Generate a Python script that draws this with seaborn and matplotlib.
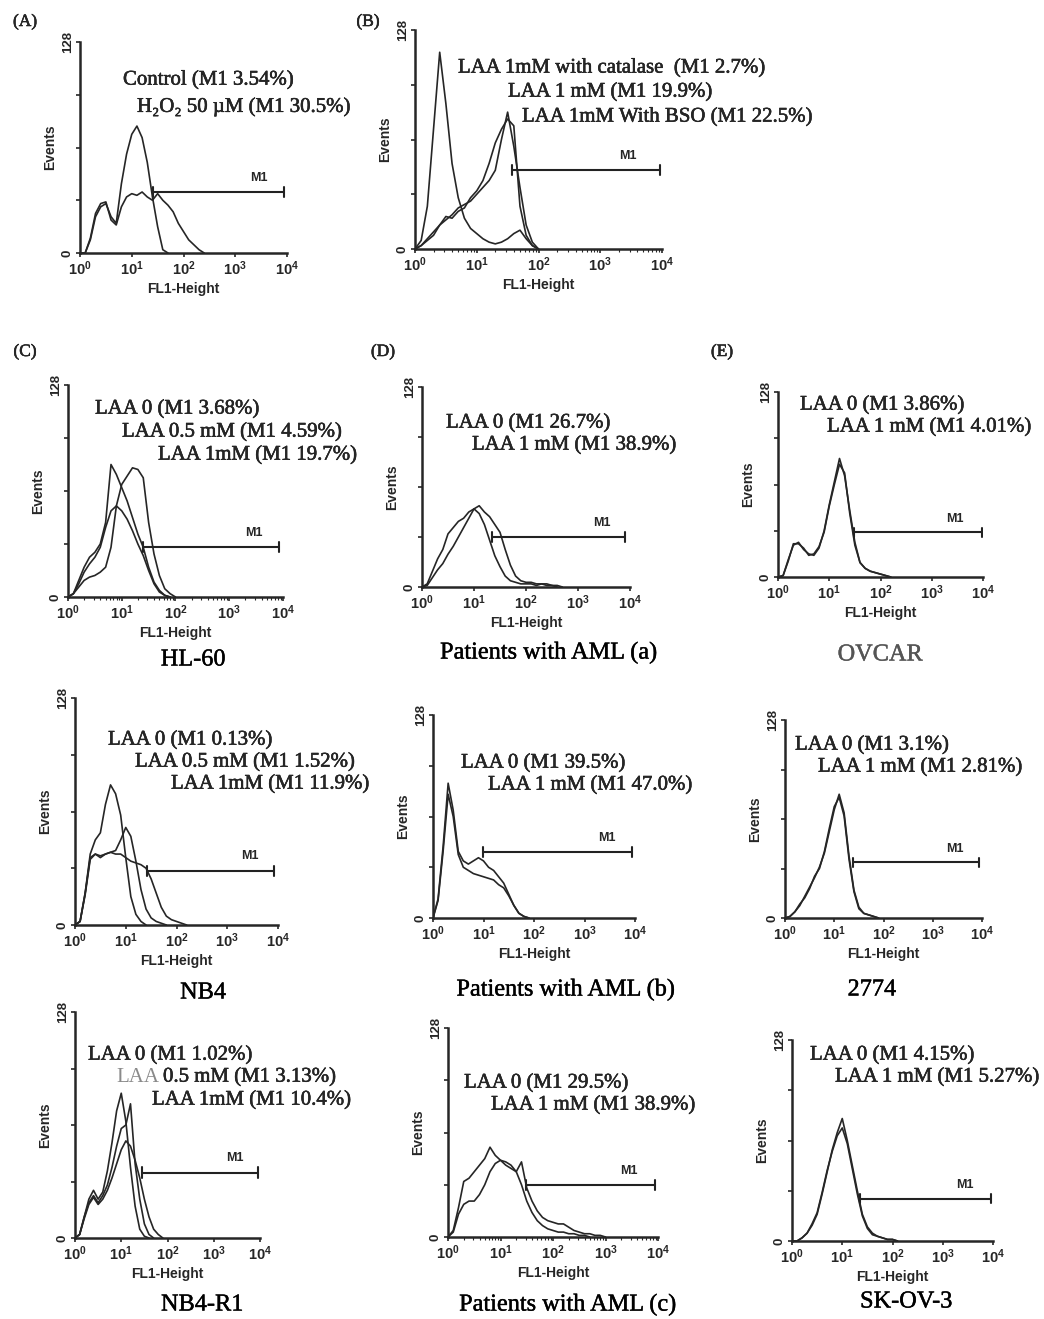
import numpy as np
import pandas as pd
import matplotlib.pyplot as plt
import matplotlib.patheffects as pe
import seaborn as sns

# flow cytometry histograms, channel spacing in log10(FL1) units
STEP = 0.1

# (A)
a_control = [0, 0, 8, 22, 28, 30, 22, 18, 42, 60, 72, 77, 70, 55, 34, 16, 2, 0]
a_h2o2 = [0, 0, 9, 24, 30, 31, 20, 17, 28, 34, 36, 35, 37, 34, 32, 36, 32, 29, 25, 18, 13, 8, 5, 2, 0]
# (B)
b_catalase = [0, 5, 25, 70, 115, 85, 50, 30, 18, 12, 9, 6, 4, 3, 4, 6, 9, 11, 6, 2, 0]
b_laa1 = [0, 2, 6, 10, 14, 19, 18, 22, 24, 30, 34, 40, 50, 62, 70, 76, 72, 25, 8, 2, 0]
b_bso = [0, 2, 5, 8, 14, 17, 20, 24, 26, 28, 32, 36, 40, 46, 64, 80, 60, 36, 14, 4, 0]
# (C) HL-60
c_laa0 = [0, 2, 10, 18, 24, 27, 32, 45, 80, 74, 66, 58, 48, 38, 30, 18, 9, 4, 1, 0]
c_laa05 = [0, 2, 8, 15, 20, 24, 30, 42, 52, 55, 52, 47, 40, 32, 25, 16, 8, 3, 1, 0]
c_laa1 = [0, 2, 6, 10, 12, 13, 15, 18, 30, 55, 68, 73, 78, 77, 72, 45, 26, 13, 5, 2, 0]
# (D) AML (a)
d_laa0 = [0, 2, 10, 18, 24, 34, 38, 42, 44, 48, 50, 47, 40, 30, 20, 13, 7, 4, 3, 2, 2, 2, 1, 2, 1, 1, 0]
d_laa1 = [0, 1, 6, 11, 15, 21, 26, 32, 38, 44, 50, 52, 48, 45, 40, 35, 24, 14, 7, 4, 3, 3, 2, 2, 2, 1, 1, 0]
# (E) OVCAR
e_laa0 = [0, 1, 12, 22, 24, 19, 16, 15, 20, 32, 50, 66, 82, 70, 46, 24, 10, 6, 4, 3, 2, 1, 0]
e_laa1 = [0, 1, 11, 23, 23, 20, 15, 16, 21, 31, 49, 64, 78, 72, 44, 22, 10, 6, 4, 3, 2, 1, 0]
# NB4
nb4_laa0 = [0, 2, 18, 40, 48, 52, 68, 79, 74, 62, 38, 16, 6, 2, 0]
nb4_laa05 = [0, 2, 18, 38, 40, 38, 40, 41, 42, 48, 55, 50, 36, 20, 9, 4, 2, 1, 0]
nb4_laa1 = [0, 2, 17, 37, 40, 39, 40, 41, 40, 40, 38, 36, 35, 34, 32, 26, 18, 10, 5, 3, 2, 1, 0]
# AML (b)
amlb_laa0 = [0, 11, 42, 78, 64, 40, 32, 30, 28, 27, 26, 25, 24, 21, 19, 14, 8, 3, 1, 0]
amlb_laa1 = [0, 12, 45, 85, 68, 42, 36, 34, 36, 38, 36, 32, 30, 26, 22, 15, 8, 3, 1, 0]
# 2774
c2774_laa0 = [0, 1, 4, 8, 14, 20, 26, 33, 42, 56, 70, 80, 68, 40, 18, 7, 3, 2, 1, 0]
c2774_laa1 = [0, 1, 4, 9, 13, 19, 27, 32, 43, 58, 72, 78, 66, 38, 17, 6, 3, 2, 1, 0]
# NB4-R1
r1_laa0 = [0, 2, 12, 22, 27, 22, 26, 38, 54, 72, 82, 66, 40, 18, 5, 1, 0]
r1_laa05 = [0, 2, 12, 20, 24, 20, 24, 30, 40, 52, 62, 64, 76, 42, 22, 8, 2, 0]
r1_laa1 = [0, 2, 11, 19, 23, 19, 22, 27, 34, 42, 50, 55, 52, 44, 34, 22, 12, 5, 2, 0]
# AML (c)
amlc_laa0 = [0, 4, 18, 34, 36, 40, 44, 48, 55, 50, 47, 46, 44, 40, 32, 22, 15, 10, 7, 5, 4, 3, 3, 2, 2, 1, 1, 0]
amlc_laa1 = [0, 3, 14, 20, 22, 22, 26, 32, 40, 45, 47, 44, 42, 40, 46, 30, 22, 16, 12, 10, 9, 8, 8, 6, 4, 3, 2, 2, 1, 1, 0]
# SK-OV-3
sk_laa0 = [0, 0, 2, 5, 10, 17, 30, 44, 58, 69, 78, 64, 48, 32, 17, 9, 5, 3, 2, 1, 1, 0]
sk_laa1 = [0, 0, 2, 5, 11, 18, 31, 45, 57, 67, 72, 62, 46, 30, 16, 8, 4, 3, 2, 1, 1, 0]

# M1 gate: start / end (log10 FL1) and drawing level (events)
m1_start = [1.41, 1.57, 1.40, 1.35, 1.49, 1.41, 0.99, 1.39, 1.44, 1.49, 1.36]
m1_end = [3.95, 3.97, 3.93, 3.90, 3.98, 3.93, 3.94, 3.93, 3.96, 3.94, 3.97]
m1_level = [37, 46, 30, 32, 31, 30.5, 41.5, 36, 37, 32, 27]

decades = [1, 10, 100, 1000, 10000]
decade_labels = [r'$10^{%d}$' % k for k in range(5)]

W, H = 1044, 1319
SERIF = ['Liberation Serif', 'DejaVu Serif']
SANS = ['Liberation Sans', 'DejaVu Sans']
INK = [pe.withStroke(linewidth=0.35, foreground='black')]

sns.set_style("ticks")
plt.rcParams['font.family'] = SANS
plt.rcParams['mathtext.fontset'] = 'custom'
plt.rcParams['mathtext.rm'] = 'Liberation Sans:weight=bold'
plt.rcParams['mathtext.bf'] = 'Liberation Sans:weight=bold'
plt.rcParams['mathtext.default'] = 'bf'

# axes boxes in pixels: x0, x1, ytop, ybottom
panels = [
    dict(box=(80, 287, 42, 253), curves=[a_control, a_h2o2], m1=0),
    dict(box=(415, 662, 30, 249), curves=[b_catalase, b_laa1, b_bso], m1=1),
    dict(box=(68, 283, 385, 597), curves=[c_laa0, c_laa05, c_laa1], m1=2),
    dict(box=(422, 630, 387, 587), curves=[d_laa0, d_laa1], m1=3),
    dict(box=(778, 983, 392, 577), curves=[e_laa0, e_laa1], m1=4),
    dict(box=(75, 278, 698, 925), curves=[nb4_laa0, nb4_laa05, nb4_laa1], m1=5),
    dict(box=(433, 635, 715, 918), curves=[amlb_laa0, amlb_laa1], m1=6),
    dict(box=(785, 982, 720, 918), curves=[c2774_laa0, c2774_laa1], m1=7),
    dict(box=(75, 260, 1012, 1238), curves=[r1_laa0, r1_laa05, r1_laa1], m1=8),
    dict(box=(448, 658, 1028, 1237), curves=[amlc_laa0, amlc_laa1], m1=9),
    dict(box=(792, 993, 1040, 1241), curves=[sk_laa0, sk_laa1], m1=10),
]

# (text, left x px, center y px)
labels = [
    ("Control (M1 3.54%)", 123, 80), ("H₂O₂ 50 µM (M1 30.5%)", 137, 107),
    ("LAA 1mM with catalase  (M1 2.7%)", 458, 68), ("LAA 1 mM (M1 19.9%)", 508, 92),
    ("LAA 1mM With BSO (M1 22.5%)", 522, 117),
    ("LAA 0 (M1 3.68%)", 95, 409), ("LAA 0.5 mM (M1 4.59%)", 122, 432), ("LAA 1mM (M1 19.7%)", 158, 455),
    ("LAA 0 (M1 26.7%)", 446, 423), ("LAA 1 mM (M1 38.9%)", 472, 445),
    ("LAA 0 (M1 3.86%)", 800, 405), ("LAA 1 mM (M1 4.01%)", 827, 427),
    ("LAA 0 (M1 0.13%)", 108, 740), ("LAA 0.5 mM (M1 1.52%)", 135, 762), ("LAA 1mM (M1 11.9%)", 171, 784),
    ("LAA 0 (M1 39.5%)", 461, 763), ("LAA 1 mM (M1 47.0%)", 488, 785),
    ("LAA 0 (M1 3.1%)", 795, 745), ("LAA 1 mM (M1 2.81%)", 818, 767),
    ("LAA 0 (M1 1.02%)", 88, 1055), ("0.5 mM (M1 3.13%)", 163, 1077), ("LAA 1mM (M1 10.4%)", 152, 1100),
    ("LAA 0 (M1 29.5%)", 464, 1083), ("LAA 1 mM (M1 38.9%)", 491, 1105),
    ("LAA 0 (M1 4.15%)", 810, 1055), ("LAA 1 mM (M1 5.27%)", 835, 1077),
]
captions = [
    ("HL-60", 193, 660, 'black'), ("Patients with AML (a)", 549, 653, 'black'),
    ("OVCAR", 880, 655, '#555555'), ("NB4", 203, 993, 'black'),
    ("Patients with AML (b)", 566, 990, 'black'), ("2774", 872, 990, 'black'),
    ("NB4-R1", 202, 1305, 'black'), ("Patients with AML (c)", 568, 1305, 'black'),
    ("SK-OV-3", 906, 1302, 'black'),
]
letters = [("(A)", 25, 22), ("(B)", 368, 22), ("(C)", 25, 352), ("(D)", 383, 352), ("(E)", 722, 352)]

fig = plt.figure(figsize=(W / 100, H / 100), dpi=100)

for p in panels:
    x0, x1, yt, yb = p['box']
    ax = fig.add_axes([x0 / W, 1 - yb / H, (x1 - x0) / W, (yb - yt) / H])
    for ys in p['curves']:
        df = pd.DataFrame({'fl1': 10 ** (np.arange(len(ys)) * STEP), 'events': ys})
        sns.lineplot(data=df, x='fl1', y='events', ax=ax, color='#262626',
                     linewidth=1.2, estimator=None, sort=False)
    i = p['m1']
    g0, g1, lv = 10 ** m1_start[i], 10 ** m1_end[i], m1_level[i]
    ax.plot([g0, g1], [lv, lv], color='#222222', lw=1.5)
    ax.plot([g0, g0], [lv - 3, lv + 3], color='#222222', lw=1.5)
    ax.plot([g1, g1], [lv - 3, lv + 3], color='#222222', lw=1.5)
    ax.text(10 ** 3.45, lv + 5, "M1", ha='center', va='bottom', fontsize=9, fontweight='bold')

    ax.set_xscale('log')
    ax.set_xlim(1, 1e4)
    ax.set_ylim(0, 128)
    ax.set_xticks(decades)
    ax.set_xticklabels(decade_labels, fontsize=10.5)
    ax.set_yticks([0, 32, 64, 96, 128])
    ax.set_yticklabels(['0', '', '', '', '128'], fontsize=9.5, fontweight='bold', rotation=90, va='center')
    ax.tick_params(axis='both', which='major', length=3, width=1.2, pad=1.5, direction='out')
    ax.tick_params(axis='x', which='minor', length=2, width=0.8, direction='out')
    ax.set_xlabel("FL1-Height", fontsize=10, fontweight='bold', labelpad=3)
    ax.set_ylabel("Events", fontsize=10, fontweight='bold', labelpad=3)
    for s in ['left', 'bottom']:
        ax.spines[s].set_linewidth(1.8)
    sns.despine(ax=ax)
    ax.patch.set_alpha(0)

for s, x, y in labels:
    fig.text(x / W, 1 - y / H, s, ha='left', va='center', fontsize=15, family=SERIF, path_effects=INK)
fig.text(116 / W, 1 - 1077 / H, "LAA", ha='left', va='center', fontsize=15, family=SERIF, color='#8a8a8a')
for s, x, y, c in captions:
    fig.text(x / W, 1 - y / H, s, ha='center', va='center', fontsize=17.5, family=SERIF, color=c,
             path_effects=[pe.withStroke(linewidth=0.3, foreground=c)])
for s, x, y in letters:
    fig.text(x / W, 1 - y / H, s, ha='center', va='center', fontsize=12.5, family=SERIF, path_effects=INK)

fig.savefig("out.png", dpi=100, facecolor='white')
